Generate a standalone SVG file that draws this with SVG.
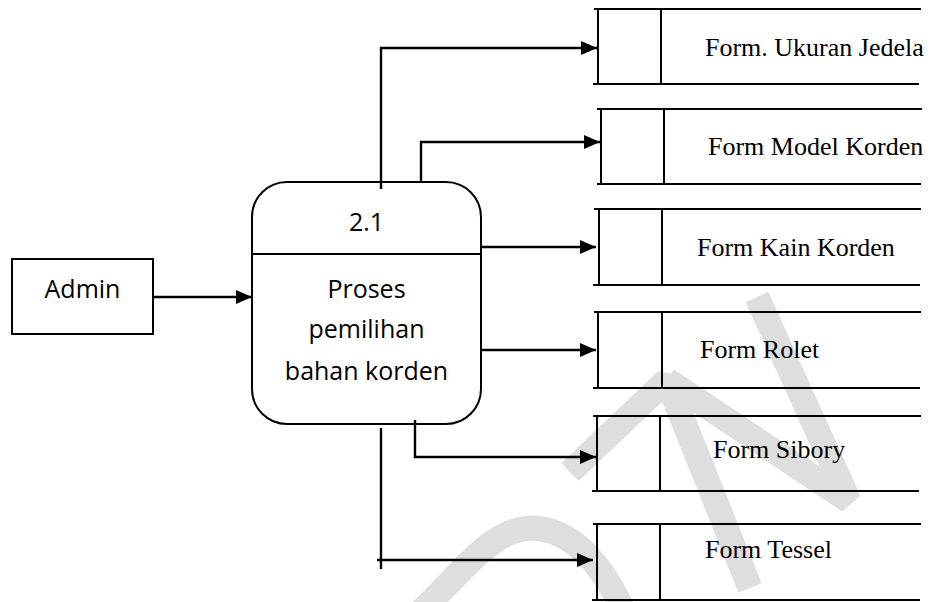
<svg xmlns="http://www.w3.org/2000/svg" width="931" height="602" viewBox="0 0 931 602">
<style>
  .wm{fill:none;stroke:#dedede;stroke-width:25;stroke-linejoin:bevel}
  .st{stroke:#000;stroke-width:2;fill:none}
  .box{fill:#fff;stroke:#000;stroke-width:2}
  .sans{font-family:"Open Sans","Noto Sans","Liberation Sans",sans-serif;font-size:25px;fill:#000}
  .serif{font-family:"Liberation Serif","Times New Roman",serif;font-size:26px;fill:#000}
  .con{fill:none;stroke:#000;stroke-width:2.4}
</style>
<defs>
  <marker id="arr" markerUnits="userSpaceOnUse" markerWidth="16" markerHeight="14" refX="16" refY="7" orient="auto">
    <path d="M0,0 L16,7 L0,14 z" fill="#000"/>
  </marker>
</defs>
<rect x="0" y="0" width="931" height="602" fill="#fff"/>
<g id="watermark" class="wm">
  <path d="M570,472 L667,380 L750,588"/>
  <path d="M667,380 L849,501 L757,297"/>
  <path d="M418,614 C460,575 490,530 530,528 C570,528 600,560 624,612"/>
</g>
<g id="admin">
  <rect class="box" x="12" y="259" width="141" height="75"/>
  <text class="sans" x="82.5" y="298" text-anchor="middle">Admin</text>
</g>
<g id="process">
  <rect class="box" x="252" y="182" width="229" height="242" rx="35" ry="35"/>
  <line class="st" x1="252" y1="254" x2="481" y2="254"/>
  <text class="sans" x="366.5" y="231" text-anchor="middle">2.1</text>
  <text class="sans" x="366.5" y="298" text-anchor="middle">Proses</text>
  <text class="sans" x="366.5" y="338" text-anchor="middle">pemilihan</text>
  <text class="sans" x="366.5" y="380" text-anchor="middle">bahan korden</text>
</g>
<g id="store1">
  <path class="st" d="M594,9 H921 M593,84 H919 M598,9 V84 M661,9 V84"/>
  <text class="serif" x="705" y="56">Form. Ukuran Jedela</text>
</g>
<g id="store2">
  <path class="st" d="M597,109 H922 M597,184 H921 M601,109 V184 M664,109 V184"/>
  <text class="serif" x="708" y="155">Form Model Korden</text>
</g>
<g id="store3">
  <path class="st" d="M594,209 H921 M593,285 H920 M599,209 V285 M662,209 V285"/>
  <text class="serif" x="697" y="256">Form Kain Korden</text>
</g>
<g id="store4">
  <path class="st" d="M594,312 H921 M593,388 H920 M598,312 V388 M662,312 V388"/>
  <text class="serif" x="700" y="358">Form Rolet</text>
</g>
<g id="store5">
  <path class="st" d="M593,416 H921 M592,491 H919 M597,416 V491 M660,416 V491"/>
  <text class="serif" x="713" y="458">Form Sibory</text>
</g>
<g id="store6">
  <path class="st" d="M593,524 H921 M592,600 H920 M597,524 V600 M660,524 V600"/>
  <text class="serif" x="705" y="558">Form Tessel</text>
</g>
<g id="connectors">
  <path class="con" d="M153,297 H252" marker-end="url(#arr)"/>
  <path class="con" d="M381,189 V48 H597" marker-end="url(#arr)"/>
  <path class="con" d="M421,182 V142 H600" marker-end="url(#arr)"/>
  <path class="con" d="M481,247 H596" marker-end="url(#arr)"/>
  <path class="con" d="M481,350 H596" marker-end="url(#arr)"/>
  <path class="con" d="M415,420 V457 H596" marker-end="url(#arr)"/>
  <path class="con" d="M381,428 V569 M377,560 H593" marker-end="url(#arr)"/>
</g>
</svg>
